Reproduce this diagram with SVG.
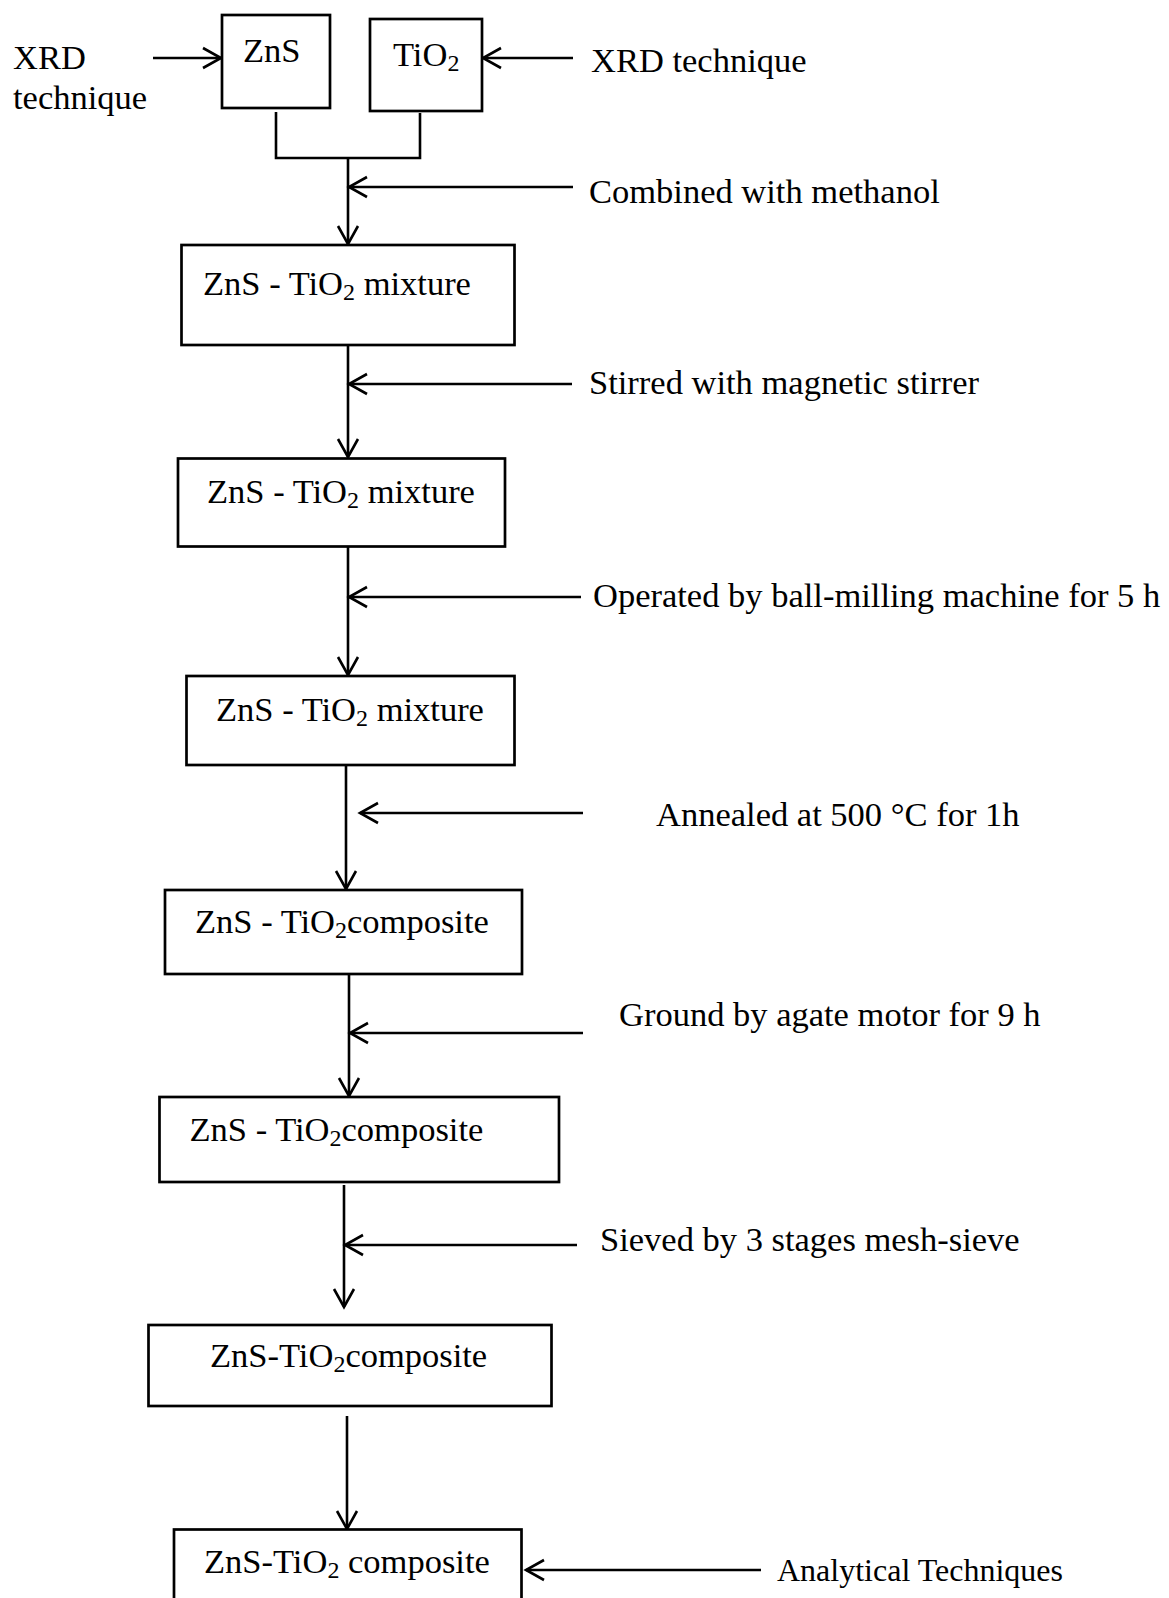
<svg xmlns="http://www.w3.org/2000/svg" width="1169" height="1598" viewBox="0 0 1169 1598">
<defs>
<style>
.box{fill:#fff;stroke:#000;stroke-width:2.7}
.t{font-family:"Liberation Serif","Times New Roman",serif;font-size:34.5px;fill:#000}
.sm{font-size:32px}
.sub{font-size:24px}
.ln{fill:none;stroke:#000;stroke-width:2.6}
.ar{fill:none;stroke:#000;stroke-width:2.6;marker-end:url(#arr)}
</style>
<marker id="arr" markerUnits="userSpaceOnUse" viewBox="-22 -13 25 26" refX="0" refY="0" markerWidth="25" markerHeight="26" orient="auto">
<path d="M-18,-10 L0,0 L-18,10" fill="none" stroke="#000" stroke-width="2.6"/>
</marker>
</defs>
<rect width="1169" height="1598" fill="#fff"/>
<g id="connectors">
<path class="ar" d="M153,58 H221"/>
<path class="ar" d="M573,58 H483"/>
<path class="ln" d="M276,112 V158 H420 V113"/>
<path class="ar" d="M348,158 V244"/>
<path class="ar" d="M573,187 H349"/>
<path class="ar" d="M348,345 V457"/>
<path class="ar" d="M572,384 H349"/>
<path class="ar" d="M348,547 V675"/>
<path class="ar" d="M581,597 H349"/>
<path class="ar" d="M346,765 V889"/>
<path class="ar" d="M583,813 H360"/>
<path class="ar" d="M349,974 V1096"/>
<path class="ar" d="M583,1033 H350"/>
<path class="ar" d="M344,1185 V1307"/>
<path class="ar" d="M577,1245 H345"/>
<path class="ar" d="M347,1416 V1529"/>
<path class="ar" d="M761,1570 H526"/>
</g>
<g id="label-xrd-left"><text class="t" x="13" y="69">XRD</text><text class="t" x="13" y="109">technique</text></g>
<g id="node-zns"><rect class="box" x="222" y="15" width="108" height="93"/><text class="t" x="243" y="62">ZnS</text></g>
<g id="node-tio2"><rect class="box" x="370" y="19" width="112" height="92"/><text class="t" x="393" y="66">TiO<tspan class="sub" dy="5">2</tspan></text></g>
<g id="label-xrd-right"><text class="t" x="591" y="72">XRD technique</text></g>
<g id="label-combined"><text class="t" x="589" y="203">Combined with methanol</text></g>
<g id="node-mix1"><rect class="box" x="181.5" y="245" width="333" height="100"/><text class="t" x="203" y="295">ZnS - TiO<tspan class="sub" dy="5">2</tspan><tspan dy="-5"> mixture</tspan></text></g>
<g id="label-stirred"><text class="t" x="589" y="394">Stirred with magnetic stirrer</text></g>
<g id="node-mix2"><rect class="box" x="178" y="458.5" width="327" height="88"/><text class="t" x="207" y="503">ZnS - TiO<tspan class="sub" dy="5">2</tspan><tspan dy="-5"> mixture</tspan></text></g>
<g id="label-operated"><text class="t" x="593" y="607">Operated by ball-milling machine for 5 h</text></g>
<g id="node-mix3"><rect class="box" x="186.5" y="676" width="328" height="89"/><text class="t" x="216" y="721">ZnS - TiO<tspan class="sub" dy="5">2</tspan><tspan dy="-5"> mixture</tspan></text></g>
<g id="label-annealed"><text class="t" x="656" y="826">Annealed at 500 °C for 1h</text></g>
<g id="node-comp1"><rect class="box" x="165" y="890" width="357" height="84"/><text class="t" x="195" y="933">ZnS - TiO<tspan class="sub" dy="5">2</tspan><tspan dy="-5">composite</tspan></text></g>
<g id="label-ground"><text class="t" x="619" y="1026">Ground by agate motor for 9 h</text></g>
<g id="node-comp2"><rect class="box" x="159.5" y="1097" width="399.5" height="85"/><text class="t" x="189.5" y="1141">ZnS - TiO<tspan class="sub" dy="5">2</tspan><tspan dy="-5">composite</tspan></text></g>
<g id="label-sieved"><text class="t" x="600" y="1251">Sieved by 3 stages mesh-sieve</text></g>
<g id="node-comp3"><rect class="box" x="148.5" y="1325" width="403" height="81"/><text class="t" x="210" y="1367">ZnS-TiO<tspan class="sub" dy="5">2</tspan><tspan dy="-5">composite</tspan></text></g>
<g id="node-comp4"><rect class="box" x="174" y="1529.5" width="347.5" height="90"/><text class="t" x="204" y="1573">ZnS-TiO<tspan class="sub" dy="5">2</tspan><tspan dy="-5"> composite</tspan></text></g>
<g id="label-analytical"><text class="t sm" x="777" y="1581">Analytical Techniques</text></g>
</svg>
